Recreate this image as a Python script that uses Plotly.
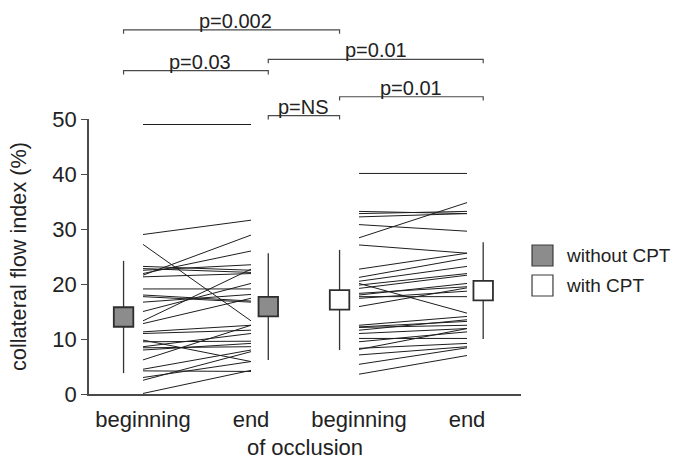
import plotly.graph_objects as go

# ---------------- data ----------------
categories = ["beginning", "end", "beginning", "end"]
tick_positions = [1, 2, 3, 4]
x_title = "of occlusion"
y_title = "collateral flow index (%)"
group_names = ["without CPT", "with CPT"]
group_fill = ["#8c8c8c", "#ffffff"]

# individual patients (collateral flow index, %)
without_begin = [49.0, 29.0, 27.2, 21.6, 21.9, 23.2, 22.8, 22.5, 21.3, 19.1,
                 18.0, 17.7, 16.7, 15.0, 13.3, 12.8, 11.3, 11.0, 9.8, 9.5,
                 8.6, 8.4, 8.0, 6.2, 4.5, 4.2, 3.0, 2.5, 0.1]
without_end = [49.0, 31.6, 13.3, 28.9, 26.0, 22.5, 22.1, 23.5, 21.9, 19.1,
               16.9, 16.7, 18.1, 20.1, 22.7, 17.4, 12.5, 11.6, 5.9, 9.6,
               11.0, 8.6, 9.2, 12.5, 8.0, 4.1, 5.9, 7.7, 4.3]
with_begin = [40.1, 33.2, 32.8, 32.2, 30.8, 28.4, 27.1, 22.7, 21.2, 20.5,
              20.1, 19.8, 19.2, 18.3, 18.0, 17.7, 17.4, 15.9, 12.5, 12.2,
              12.1, 11.6, 11.0, 10.1, 9.5, 8.3, 8.1, 7.1, 5.4, 3.6]
with_end = [40.1, 32.8, 33.2, 32.8, 29.6, 34.8, 25.6, 25.6, 24.7, 23.2,
            14.7, 21.9, 21.6, 19.5, 20.1, 17.7, 18.7, 19.3, 14.1, 13.2,
            12.5, 13.5, 11.9, 10.1, 11.3, 9.2, 11.9, 8.6, 8.4, 7.0]

# summary (mean +/- SD) per column
summary_x = [0.82, 2.16, 2.82, 4.15]
summary_mean = [14.0, 15.9, 17.1, 18.8]
summary_sd = [10.2, 9.7, 9.1, 8.8]
summary_group = [0, 0, 1, 1]

# significance brackets (indices into summary columns)
bracket_from = [0, 1, 0, 2, 1]
bracket_to = [2, 3, 1, 3, 2]
bracket_level = [66.2, 60.85, 58.8, 54.05, 50.6]
bracket_label = ["p=0.002", "p=0.01", "p=0.03", "p=0.01", "p=NS"]

# ---------------- figure ----------------
FONT = "Liberation Sans, Arial, Helvetica, sans-serif"
TXT = "#222222"
AX = "#4a4a4a"
Y_MAX = 50

fig = go.Figure()

def pair_trace(xb, xe, b_vals, e_vals):
    xs, ys = [], []
    for b, e in zip(b_vals, e_vals):
        xs += [xb, xe, None]
        ys += [b, e, None]
    return go.Scatter(x=xs, y=ys, mode="lines",
                      line=dict(color="#1e1e1e", width=1),
                      hoverinfo="skip", showlegend=False)

fig.add_trace(pair_trace(tick_positions[0], tick_positions[1], without_begin, without_end))
fig.add_trace(pair_trace(tick_positions[2], tick_positions[3], with_begin, with_end))

for g in range(2):
    idx = [i for i, gg in enumerate(summary_group) if gg == g]
    fig.add_trace(go.Scatter(
        x=[summary_x[i] for i in idx],
        y=[summary_mean[i] for i in idx],
        mode="markers",
        marker=dict(symbol="square", size=19.5, color=group_fill[g],
                    line=dict(color="#2e2e2e", width=1.8)),
        error_y=dict(type="data", array=[summary_sd[i] for i in idx],
                     visible=True, width=0, thickness=1.3, color="#333333"),
        name=group_names[g], showlegend=False, hoverinfo="skip"))

shapes = []
annotations = []
tick_drop = 0.7  # data units
for f, t, lev, lab in zip(bracket_from, bracket_to, bracket_level, bracket_label):
    x0, x1 = summary_x[f], summary_x[t]
    y_top = lev / Y_MAX
    y_low = (lev - tick_drop) / Y_MAX
    shapes.append(dict(type="path", xref="x", yref="paper",
                       path=f"M {x0},{y_low} L {x0},{y_top} L {x1},{y_top} L {x1},{y_low}",
                       line=dict(color=AX, width=1.2)))
    annotations.append(dict(x=(x0 + x1) / 2, y=y_top, xref="x", yref="paper",
                            text=lab, showarrow=False, yanchor="middle", yshift=9,
                            xshift=4 if f == 0 else 0,
                            font=dict(family=FONT, size=20, color=TXT)))

# manual legend
leg_x0, leg_x1 = 1.0255, 1.074
leg_rows = [(0.5418, 0.4655), (0.4327, 0.3564)]
for g, (yt, yb) in enumerate(leg_rows):
    shapes.append(dict(type="rect", xref="paper", yref="paper",
                       x0=leg_x0, x1=leg_x1, y0=yb, y1=yt,
                       fillcolor=group_fill[g], line=dict(color="#3a3a3a", width=1.2)))
    annotations.append(dict(x=1.1, y=(yt + yb) / 2, xref="paper", yref="paper",
                            text=group_names[g], showarrow=False,
                            xanchor="left", yanchor="middle",
                            font=dict(family=FONT, size=19, color=TXT)))

fig.update_layout(
    width=675, height=461,
    margin=dict(l=89, r=154, t=119, b=67, autoexpand=False),
    paper_bgcolor="white", plot_bgcolor="white",
    font=dict(family=FONT, color=TXT),
    shapes=shapes, annotations=annotations,
    showlegend=False,
    xaxis=dict(range=[0.5, 4.5], tickmode="array", tickvals=tick_positions,
               ticktext=categories, showgrid=False, zeroline=False,
               showline=True, linecolor=AX, linewidth=1.5, ticks="",
               ticklabelstandoff=5, automargin=False,
               tickfont=dict(family=FONT, size=22, color=TXT),
               title=dict(text=x_title, font=dict(family=FONT, size=22, color=TXT),
                          standoff=8)),
    yaxis=dict(range=[0, Y_MAX], tickvals=[0, 10, 20, 30, 40, 50],
               showgrid=False, zeroline=False, showline=True, linecolor=AX,
               linewidth=1.5, ticks="outside", ticklen=6, tickwidth=1.2,
               tickcolor=AX, automargin=False,
               tickfont=dict(family=FONT, size=22, color=TXT),
               title=dict(text=y_title, font=dict(family=FONT, size=21.7, color=TXT),
                          standoff=20)),
)

fig.write_html("out.html", config={"displayModeBar": False},
               post_script="document.body.style.margin='0';document.body.style.overflow='hidden';")
